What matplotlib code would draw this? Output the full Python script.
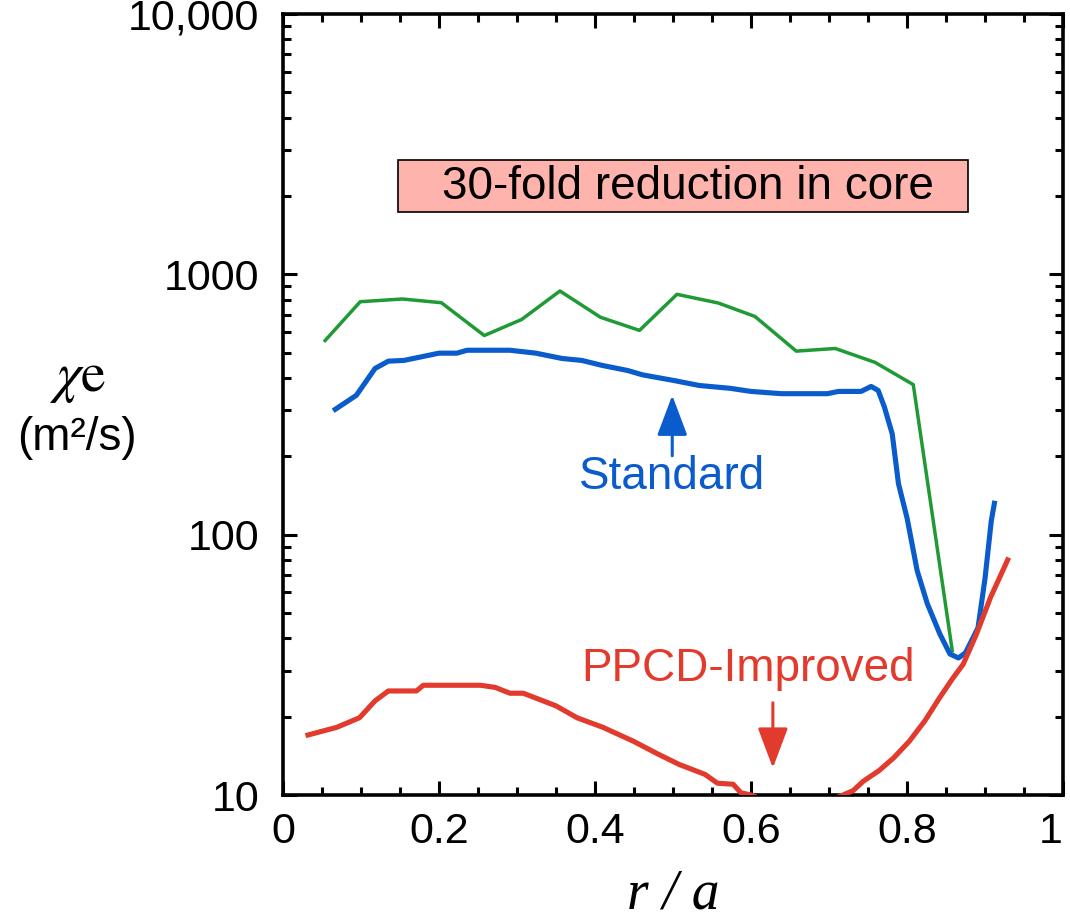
import numpy as np
import matplotlib.pyplot as plt
from matplotlib.ticker import FixedLocator, FixedFormatter, LogLocator, NullFormatter, MultipleLocator
from matplotlib.patches import Rectangle

# ===============================================
# chi_e profiles: standard vs PPCD-improved
# ===============================================

plt.rcParams["font.family"] = ["Liberation Sans", "DejaVu Sans"]
plt.rcParams["mathtext.fontset"] = "stix"

# green (standard, upper estimate)
r_green = [0.054, 0.099, 0.153, 0.203, 0.258, 0.306, 0.355, 0.407, 0.457, 0.505,
           0.558, 0.605, 0.658, 0.708, 0.759, 0.808, 0.858]
chi_green = [557, 785, 804, 778, 582, 671, 863, 684, 609, 838,
             776, 689, 507, 519, 459, 377, 35.8]

# blue (standard)
r_blue = [0.067, 0.094, 0.118, 0.135, 0.155, 0.200, 0.223, 0.236, 0.291, 0.324,
          0.358, 0.383, 0.409, 0.442, 0.461, 0.501, 0.534, 0.573, 0.600, 0.639,
          0.698, 0.712, 0.741, 0.754, 0.763, 0.771, 0.781, 0.789, 0.800, 0.813,
          0.826, 0.842, 0.855, 0.866, 0.875, 0.891, 0.900, 0.908, 0.912]
chi_blue = [303, 343, 435, 464, 467, 498, 498, 511, 511, 498,
            475, 467, 447, 427, 411, 391, 374, 365, 355, 348,
            348, 355, 355, 371, 358, 309, 244, 157, 116, 72.7,
            54.3, 41.6, 34.8, 33.6, 35.2, 43.9, 68, 113, 132]

# red (PPCD-improved)
r_red = [0.032, 0.069, 0.098, 0.118, 0.135, 0.171, 0.180, 0.253, 0.272, 0.291,
         0.308, 0.350, 0.377, 0.410, 0.449, 0.482, 0.508, 0.541, 0.557, 0.577,
         0.587, 0.600, 0.660, 0.718, 0.731, 0.744, 0.764, 0.783, 0.803, 0.823,
         0.842, 0.858, 0.872, 0.889, 0.907, 0.929]
chi_red = [17.0, 18.2, 19.8, 23.0, 25.1, 25.1, 26.4, 26.4, 25.9, 24.6,
           24.6, 22.0, 19.8, 18.2, 16.1, 14.3, 13.1, 12.0, 11.1, 11.0,
           10.2, 10.0, 8.5, 10.0, 10.4, 11.3, 12.4, 13.9, 16.1, 19.3,
           23.7, 27.9, 31.8, 41.5, 57.4, 80]

ytick_vals = [10, 100, 1000, 10000]
ytick_labels = ["10", "100", "1000", "10,000"]
xtick_vals = [0, 0.2, 0.4, 0.6, 0.8, 1.0]
xtick_labels = ["0", "0.2", "0.4", "0.6", "0.8", "1"]

GREEN = "#1f9a35"
BLUE = "#0a5ccc"
RED = "#e23b2e"

fig = plt.figure(figsize=(10.7, 9.21), dpi=100)
ax = fig.add_axes([0.2645, 0.1368, 0.729, 0.848])

ax.plot(r_green, chi_green, color=GREEN, lw=2.5, zorder=3)
ax.plot(r_blue, chi_blue, color=BLUE, lw=3.7, zorder=4)
ax.plot(r_red, chi_red, color=RED, lw=3.7, zorder=5)

ax.set_yscale("log")
ax.set_xlim(0, 1)
ax.set_ylim(10, 10000)

ax.yaxis.set_major_locator(FixedLocator(ytick_vals))
ax.yaxis.set_major_formatter(FixedFormatter(ytick_labels))
ax.yaxis.set_minor_locator(LogLocator(base=10, subs=np.arange(2, 10)))
ax.yaxis.set_minor_formatter(NullFormatter())
ax.xaxis.set_major_locator(FixedLocator(xtick_vals))
ax.xaxis.set_major_formatter(FixedFormatter(xtick_labels))
ax.xaxis.set_minor_locator(MultipleLocator(0.05))

ax.tick_params(which="both", direction="in", top=True, right=True, width=2.2, labelsize=31)
ax.tick_params(which="major", length=10)
ax.tick_params(axis="y", which="major", pad=17)
ax.tick_params(axis="x", which="major", pad=12)
ax.tick_params(which="minor", length=6)
for s in ax.spines.values():
    s.set_linewidth(2.6)
# keep the last x label inside the figure
ax.get_xticklabels()[-1].set_horizontalalignment("right")
ax.get_xticklabels()[-1].set_x(1.008)

# labels
ax.text(0.50, -0.127, "r / a", transform=ax.transAxes, ha="center", va="center",
        fontsize=40, family="Liberation Serif", style="italic")
fig.text(0.072, 0.589, r"$\chi\mathrm{e}$", ha="center", va="center", fontsize=40)
fig.text(0.072, 0.524, "(m²/s)", ha="center", va="center", fontsize=33)

# annotation box
ax.add_patch(Rectangle((0.147, 0.746), 0.731, 0.067, transform=ax.transAxes,
                       facecolor="#ffb3ad", edgecolor="black", lw=1.2, zorder=6))
ax.text(0.519, 0.779, "30-fold reduction in core", transform=ax.transAxes,
        ha="center", va="center", fontsize=33, zorder=7)

# Standard label + arrow
ax.text(0.499, 167, "Standard", color=BLUE, ha="center", va="center", fontsize=33)
ax.annotate("", xy=(0.499, 343), xytext=(0.499, 201),
            arrowprops=dict(arrowstyle="-|>,head_length=1.25,head_width=0.47",
                            mutation_scale=20, color=BLUE, lw=2.2,
                            shrinkA=0, shrinkB=0))

# PPCD label + arrow
ax.text(0.596, 30.5, "PPCD-Improved", color=RED, ha="center", va="center", fontsize=33)
ax.annotate("", xy=(0.628, 12.7), xytext=(0.628, 22.6),
            arrowprops=dict(arrowstyle="-|>,head_length=1.25,head_width=0.47",
                            mutation_scale=20, color=RED, lw=2.2,
                            shrinkA=0, shrinkB=0))

plt.savefig("out.png", dpi=100)
plt.close()
